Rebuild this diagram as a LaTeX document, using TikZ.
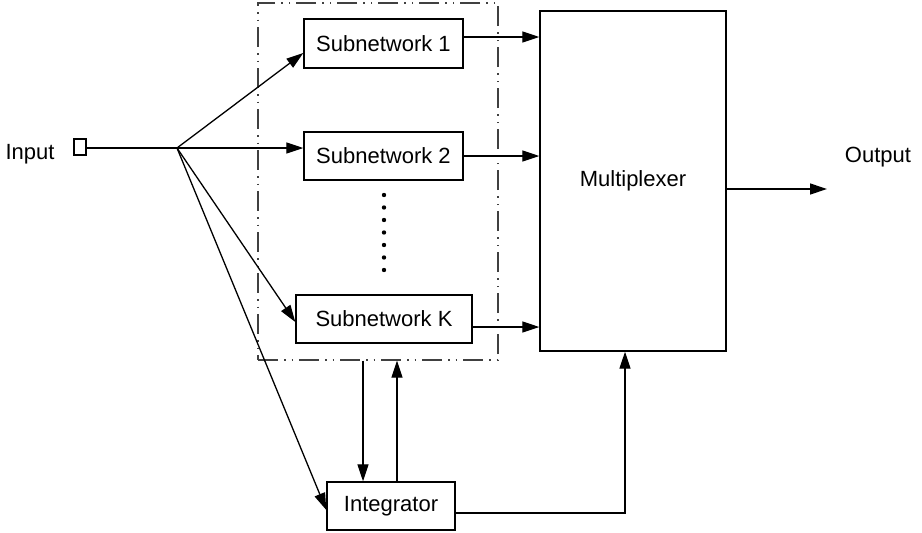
\documentclass[tikz,border=0pt]{standalone}
\usepackage{fontspec}
\setmainfont{Liberation Sans}
\usetikzlibrary{arrows.meta,calc}
\begin{document}
\begin{tikzpicture}[x=1pt,y=-1pt, font=\fontsize{22}{26}\selectfont,
  box/.style={draw, line width=1.4pt, minimum height=48pt, inner sep=0pt},
  arr/.style={line width=1.3pt, -{Triangle[length=17pt,width=11pt]}},
  ln/.style={line width=1.3pt},
  grpbox/.style={draw=black!75, line width=1.3pt, dash pattern=on 20pt off 6pt on 1.5pt off 6pt on 1.5pt off 6pt, inner sep=0pt}]
\useasboundingbox (0,0) rectangle (922,533);
% group box
\node[grpbox, minimum width=240pt, minimum height=357pt] (grp) at (378,181.5) {};
% blocks
\node[box, minimum width=159pt, minimum height=49pt] (sub1) at (383.5,43.5) {Subnetwork 1};
\node[box, minimum width=159pt] (sub2) at (383.5,156) {Subnetwork 2};
\node[box, minimum width=176pt] (subk) at (384,319) {Subnetwork K};
\node[box, minimum width=186pt, minimum height=340pt] (mux) at (633,181) {Multiplexer};
\node[box, minimum width=128pt] (int) at (391,506) {Integrator};
\node (in) at (30,154) {Input};
\node (out) at (878,157) {Output};
\node[draw, line width=1.1pt, minimum width=12pt, minimum height=16pt, inner sep=0pt] (sq) at (80,147) {};
\coordinate (br) at (177,148);
\coordinate (oend) at (827,189);
% dots
\foreach \i in {0,...,6} \fill (384,195+12.5*\i) circle (2.2pt);
% connectors
\draw[ln] (sq.east |- br) -- (br);
\draw[arr] (br) -- ([yshift=-9.5pt]sub1.west);
\draw[arr] (br) -- (sub2.west |- br);
\draw[arr] (br) -- ([yshift=-3pt]subk.west);
\draw[arr] (br) -- ([yshift=-4pt]int.west);
\coordinate (o1) at ([yshift=6.5pt]sub1.east);
\draw[arr] (o1) -- (o1 -| mux.west);
\draw[arr] (sub2.east) -- (sub2.east -| mux.west);
\coordinate (ok) at ([yshift=-8pt]subk.east);
\draw[arr] (ok) -- (ok -| mux.west);
\coordinate (d1) at ([xshift=-28pt]int.north);
\coordinate (u1) at ([xshift=6pt]int.north);
\draw[arr] (d1 |- grp.south) -- (d1);
\draw[arr] (u1) -- (u1 |- grp.south);
\draw[arr] ([yshift=-7pt]int.east) -| ([xshift=-8pt]mux.south);
\draw[arr] (mux.east |- oend) -- (oend);
\end{tikzpicture}
\end{document}
